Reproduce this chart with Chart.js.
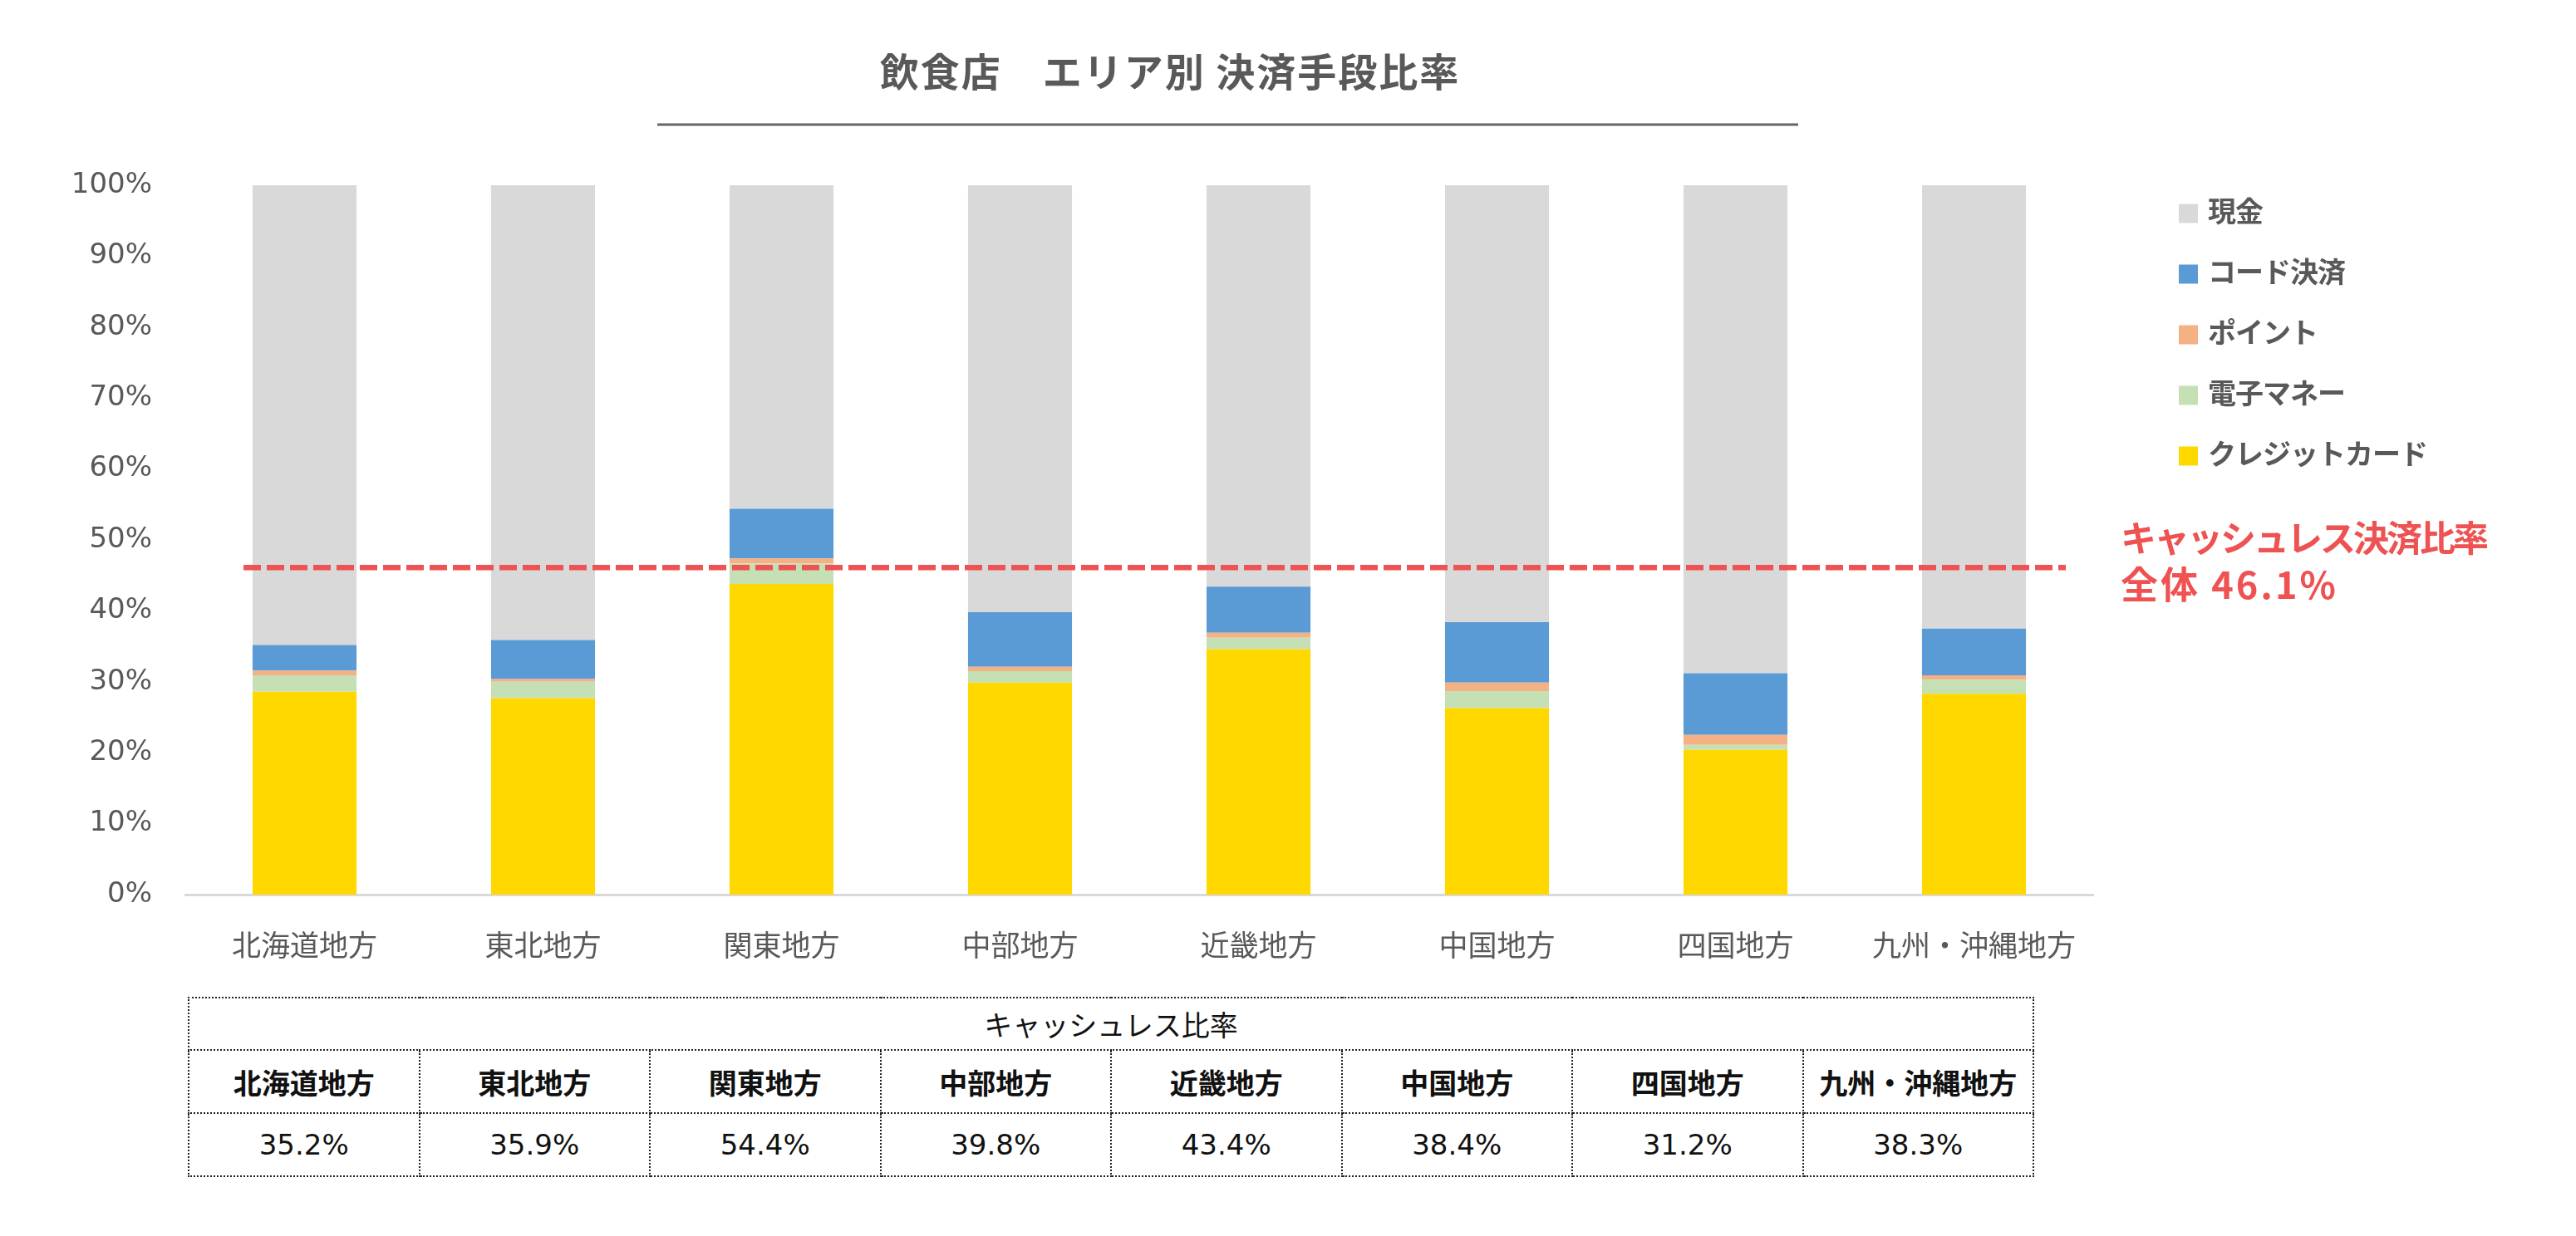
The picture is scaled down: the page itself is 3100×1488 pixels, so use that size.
<!DOCTYPE html>
<html lang="ja">
<head>
<meta charset="utf-8">
<title>飲食店 エリア別 決済手段比率</title>
<script src="https://cdn.jsdelivr.net/npm/chart.js@4"></script>
<style>
    html, body { margin: 0; padding: 0; background: #fff; }
    #wrap { position: relative; width: 3100px; height: 1488px; }
    #chart-kessai { position: absolute; left: 0; top: 0; }
    #table-cashless {
        position: absolute; left: 226px; top: 1200px; width: 2222px;
        border-collapse: collapse; table-layout: fixed;
        font-family: "Noto Sans CJK JP", sans-serif; color: #111;
    }
    #table-cashless td { border: 2px dotted #222; text-align: center; padding: 0; }
    #table-cashless .head td { height: 61px; font-size: 34px; font-weight: normal; }
    #table-cashless .names td { height: 74px; font-size: 34px; font-weight: bold; }
    #table-cashless .rates td { height: 74px; font-size: 34px; font-family: "DejaVu Sans", sans-serif; }
</style>
</head>
<body>
<div id="wrap">
    <canvas id="chart-kessai" width="3100" height="1190"></canvas>
    <table id="table-cashless"></table>
</div>
<script>
const areas = ['北海道地方', '東北地方', '関東地方', '中部地方', '近畿地方', '中国地方', '四国地方', '九州・沖縄地方'];
const creditCard = [28.6, 27.7, 43.8, 29.9, 34.6, 26.3, 20.4, 28.3];
const eMoney = [2.3, 2.3, 2.9, 1.6, 1.6, 2.4, 0.7, 2.0];
const points = [0.7, 0.4, 0.7, 0.6, 0.7, 1.2, 1.4, 0.6];
const codePay = [3.6, 5.5, 7.0, 7.7, 6.5, 8.5, 8.7, 6.6];
const cash = [64.8, 64.1, 45.6, 60.2, 56.6, 61.6, 68.8, 62.5];
const cashlessRates = [35.2, 35.9, 54.4, 39.8, 43.4, 38.4, 31.2, 38.3];
const overallRate = 46.1;
const yTicks = [0, 10, 20, 30, 40, 50, 60, 70, 80, 90, 100];

document.addEventListener('DOMContentLoaded', function() {
    const jp = '"Noto Sans CJK JP", sans-serif';

    // タイトル・凡例・全体ライン
    const extras = {
        id: 'extras',
        afterDatasetsDraw(chart) {
            const c = chart.ctx;
            const area = chart.chartArea;
            const y = chart.scales.y.getPixelForValue(overallRate);
            c.save();
            c.strokeStyle = '#EE5252';
            c.lineWidth = 6.5;
            c.setLineDash([21, 7]);
            c.beginPath();
            c.moveTo(area.left + 70, y);
            c.lineTo(area.right - 33, y);
            c.stroke();
            c.restore();
        },
        afterDraw(chart) {
            const c = chart.ctx;
            c.save();
            c.fillStyle = '#595959';
            c.font = 'bold 47px ' + jp;
            c.textAlign = 'center';
            c.textBaseline = 'middle';
            c.letterSpacing = '2px';
            c.fillText('飲食店　エリア別 決済手段比率', 1408, 86);
            c.letterSpacing = '0px';
            c.strokeStyle = '#666';
            c.lineWidth = 3;
            c.beginPath();
            c.moveTo(791, 150);
            c.lineTo(2164, 150);
            c.stroke();

            // 凡例（上から現金）
            const ds = chart.data.datasets.slice().reverse();
            c.textAlign = 'left';
            c.font = 'bold 34px ' + jp;
            c.letterSpacing = '-1px';
            ds.forEach(function(d, i) {
                const cy = 257 + i * 73;
                c.fillStyle = d.backgroundColor;
                c.fillRect(2622, cy - 11.5, 23, 23);
                c.fillStyle = '#595959';
                c.fillText(d.label, 2657, cy - 3);
            });

            c.fillStyle = '#EE5252';
            c.font = 'bold 43px ' + jp;
            c.letterSpacing = '-3px';
            c.fillText('キャッシュレス決済比率', 2552, 648);
            c.font = 'bold 45px ' + jp;
            c.letterSpacing = '3px';
            c.fillText('全体 ' + overallRate.toFixed(1) + '%', 2552, 704);
            c.restore();
        }
    };

    const ctx = document.getElementById('chart-kessai').getContext('2d');
    new Chart(ctx, {
        type: 'bar',
        data: {
            labels: areas,
            datasets: [
                { label: 'クレジットカード', data: creditCard, backgroundColor: '#FFD800' },
                { label: '電子マネー', data: eMoney, backgroundColor: '#C5E0B4' },
                { label: 'ポイント', data: points, backgroundColor: '#F4B183' },
                { label: 'コード決済', data: codePay, backgroundColor: '#5B9BD5' },
                { label: '現金', data: cash, backgroundColor: '#D9D9D9' }
            ]
        },
        options: {
            responsive: false,
            devicePixelRatio: 1,
            animation: false,
            datasets: { bar: { categoryPercentage: 1, barPercentage: 0.436, borderWidth: 0 } },
            layout: { padding: { left: 0, top: 223, right: 581, bottom: 0 } },
            plugins: {
                legend: { display: false },
                title: { display: false },
                tooltip: { enabled: false }
            },
            scales: {
                x: {
                    stacked: true,
                    grid: { display: false, drawTicks: false },
                    border: { display: true, color: '#D9D9D9', width: 3 },
                    ticks: { color: '#595959', padding: 40, font: { family: jp, size: 35 } },
                    afterFit: function(s) { s.height = 113; }
                },
                y: {
                    stacked: true,
                    min: 0,
                    max: 100,
                    grid: { display: false, drawTicks: false },
                    border: { display: false },
                    afterBuildTicks: function(s) { s.ticks = yTicks.map(v => ({ value: v })); },
                    ticks: {
                        color: '#595959',
                        padding: 40,
                        font: { family: '"DejaVu Sans", sans-serif', size: 34 },
                        callback: function(v) { return v + '%'; }
                    },
                    afterFit: function(s) { s.width = 223; }
                }
            }
        },
        plugins: [extras]
    });

    // キャッシュレス比率の表
    const table = document.getElementById('table-cashless');
    let html = '<tr class="head"><td colspan="' + areas.length + '">キャッシュレス比率</td></tr>';
    html += '<tr class="names">' + areas.map(a => '<td>' + a + '</td>').join('') + '</tr>';
    html += '<tr class="rates">' + cashlessRates.map(r => '<td>' + r.toFixed(1) + '%</td>').join('') + '</tr>';
    table.innerHTML = html;
});
</script>
</body>
</html>
